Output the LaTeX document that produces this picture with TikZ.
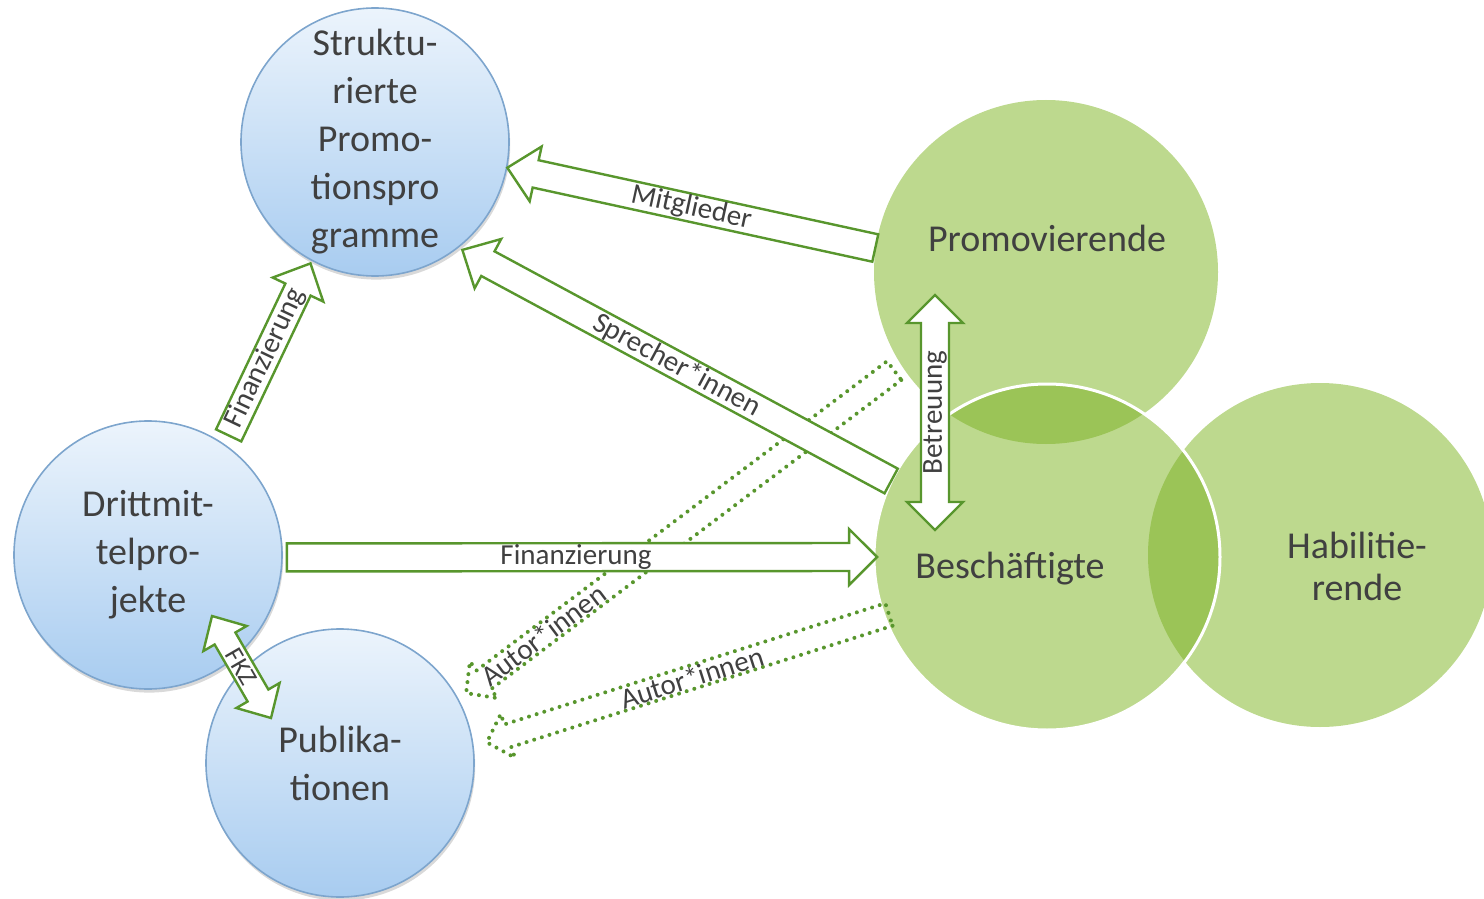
\documentclass[tikz,border=0pt]{standalone}
\usepackage{fontspec}
\setmainfont{Carlito}
\usetikzlibrary{calc, shadows}

\definecolor{bluetop}{RGB}{236,244,252}
\definecolor{bluebot}{RGB}{168,204,240}
\definecolor{blueline}{RGB}{125,165,205}
\definecolor{leafgreen}{RGB}{189,217,142}
\definecolor{lensgreen}{RGB}{155,196,87}
\definecolor{boxgreen}{RGB}{88,150,45}
\definecolor{textgray}{RGB}{64,64,64}

\tikzstyle{bluecirc}=[circle, draw=blueline, line width=0.8pt, top color=bluetop, bottom color=bluebot,
    minimum size=134pt, inner sep=0pt, align=center, text=textgray, font=\fontsize{19}{24}\selectfont,
    drop shadow={opacity=0.3, shadow xshift=0.6pt, shadow yshift=-1.8pt}]
\tikzstyle{greencirc}=[circle, fill=leafgreen, minimum size=172pt, inner sep=0pt]
\tikzstyle{bigtext}=[align=center, text=textgray, font=\fontsize{19}{24}\selectfont]
\tikzstyle{lbl}=[sloped, inner sep=0pt, text=textgray, font=\fontsize{14.5}{17}\selectfont]
\tikzstyle{arrowbox}=[draw=boxgreen, line width=1.2pt, fill=white, line join=miter]
\tikzstyle{dotbox}=[draw=boxgreen, line width=2pt, line cap=round, dash pattern=on 0pt off 4pt]

% block arrow: style, tail, tip, half shaft, half head, head length
\newcommand{\blockarrow}[6][arrowbox]{%
    \coordinate (ba-h) at ($(#3)!#6!(#2)$);
    \path[#1] ($(#2)!#4!90:(#3)$) -- ($(ba-h)!#4!-90:(#2)$) -- ($(ba-h)!#5!-90:(#2)$) -- (#3)
        -- ($(ba-h)!#5!90:(#2)$) -- ($(ba-h)!#4!90:(#2)$) -- ($(#2)!#4!-90:(#3)$) -- cycle;
}
% double block arrow: style, tip a, tip b, half shaft, half head, head length
\newcommand{\doublearrow}[6][arrowbox]{%
    \coordinate (da-a) at ($(#2)!#6!(#3)$);
    \coordinate (da-b) at ($(#3)!#6!(#2)$);
    \path[#1] (#2) -- ($(da-a)!#5!90:(#3)$) -- ($(da-a)!#4!90:(#3)$) -- ($(da-b)!#4!-90:(#2)$)
        -- ($(da-b)!#5!-90:(#2)$) -- (#3) -- ($(da-b)!#5!90:(#2)$) -- ($(da-b)!#4!90:(#2)$)
        -- ($(da-a)!#4!-90:(#3)$) -- ($(da-a)!#5!-90:(#3)$) -- cycle;
}

\begin{document}
\begin{tikzpicture}[x=0.5pt, y=-0.5pt]
    \useasboundingbox (0,0) rectangle (1484,899);
    \clip (0,0) rectangle (1484,899);
% Blue circles
    \node[bluecirc] (sp) at (375,142) {Struktu-\\rierte\\Promo-\\tionspro\\gramme};
    \node[bluecirc] (dt) at (148,555) {Drittmit-\\telpro-\\jekte};
    \node[bluecirc] (pub) at (340,763) {Publika-\\tionen};
% Green circles
    \node[greencirc] (prom) at (1046,272) {};
    \node[greencirc] (habil) at (1320,555) {};
    \node[greencirc, minimum size=173pt] (besch) at (1047,557) {};
    \begin{scope}
        \clip (besch.center) circle [radius=86.5pt];
        \fill[lensgreen] (prom.center) circle [radius=86pt];
        \fill[lensgreen] (habil.center) circle [radius=86pt];
    \end{scope}
    \draw[white, line width=1.5pt] (besch.center) circle [radius=86.5pt];
    \node[bigtext] (prom-txt) at (1047,238) {Promovierende};
    \node[bigtext] (besch-txt) at (1010,569) {Beschäftigte};
    \node[bigtext, font=\fontsize{19}{21}\selectfont] (habil-txt) at (1357,566) {Habilitie-\\rende};
% Connector ends
    \coordinate (fin1-a) at ($(dt.center)!1.07!(dt.56)$);
    \coordinate (fin1-b) at ($(sp.center)!1.02!(sp.242)$);
    \coordinate (fin2-a) at ($(dt.center)!1.03!(dt.-1)$);
    \coordinate (fin2-b) at ($(besch.center)!0.98!(besch.180)$);
    \coordinate (spr-b) at ($(sp.center)!1.03!(sp.-51)$);
    \coordinate (betr-a) at ($(prom.center)+(-111,23)$);
    \coordinate (betr-b) at ($(besch.center)+(-112,-27)$);
    \coordinate (fkz-a) at ($(dt.center)+(64,61)$);
    \coordinate (fkz-b) at ($(pub.center)+(-69,-45)$);
    \coordinate (aut1-a) at ($(prom.center)!1.05!(prom.213)$);
    \coordinate (aut1-b) at ($(pub.center)!1.07!(pub.29)$);
    \coordinate (aut2-a) at ($(besch.center)!0.97!(besch.200)$);
    \coordinate (aut2-b) at ($(pub.center)!1.1!(pub.8)$);
% Dotted arrows
    \blockarrow[dotbox]{aut1-a}{aut1-b}{5.9pt}{11.5pt}{11pt}
    \blockarrow[dotbox]{aut2-a}{aut2-b}{5.9pt}{11.5pt}{11pt}
% Solid arrows
    \blockarrow{prom.172}{sp.-11}{7pt}{14pt}{14.5pt}
    \blockarrow{besch.154}{spr-b}{7pt}{14pt}{14.5pt}
    \blockarrow{fin1-a}{fin1-b}{7pt}{14pt}{14.5pt}
    \blockarrow{fin2-a}{fin2-b}{7pt}{14pt}{14pt}
    \doublearrow{betr-a}{betr-b}{7pt}{14pt}{14pt}
    \doublearrow{fkz-a}{fkz-b}{6pt}{12.5pt}{13pt}
% Labels
    \path (prom.172) -- node[lbl] (mitg-lbl) {Mitglieder} (sp.-11);
    \path (besch.154) -- node[lbl] (spr-lbl) {Sprecher*innen} (spr-b);
    \path (fin1-a) -- node[lbl, pos=0.45] (fin1-lbl) {Finanzierung} (fin1-b);
    \path (fin2-a) -- node[lbl, pos=0.49] (fin2-lbl) {Finanzierung} (fin2-b);
    \path (betr-b) -- node[lbl] (betr-lbl) {Betreuung} (betr-a);
    \path (fkz-a) -- node[lbl, font=\fontsize{13}{15}\selectfont] (fkz-lbl) {FKZ} (fkz-b);
    \path (aut1-a) -- node[lbl, pos=0.82] (aut1-lbl) {Autor*innen} (aut1-b);
    \path (aut2-a) -- node[lbl, pos=0.49] (aut2-lbl) {Autor*innen} (aut2-b);
\end{tikzpicture}
\end{document}
